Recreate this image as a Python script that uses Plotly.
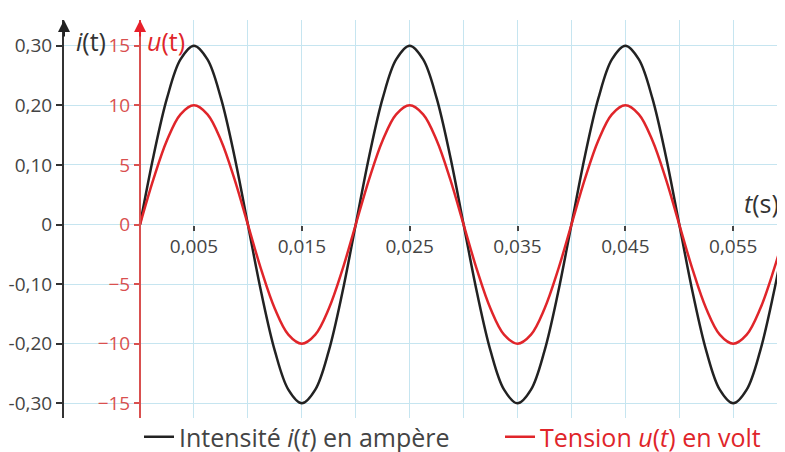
import plotly.graph_objects as go

# ---- data ----
t_s = [0.0, 0.00125, 0.0025, 0.00375, 0.005, 0.00625, 0.0075, 0.00875,
       0.01, 0.01125, 0.0125, 0.01375, 0.015, 0.01625, 0.0175, 0.01875,
       0.02, 0.02125, 0.0225, 0.02375, 0.025, 0.02625, 0.0275, 0.02875,
       0.03, 0.03125, 0.0325, 0.03375, 0.035, 0.03625, 0.0375, 0.03875,
       0.04, 0.04125, 0.0425, 0.04375, 0.045, 0.04625, 0.0475, 0.04875,
       0.05, 0.05125, 0.0525, 0.05375, 0.055, 0.05625, 0.0575, 0.05875, 0.06]
i_A = [0.0, 0.115, 0.212, 0.277, 0.30, 0.277, 0.212, 0.115,
       0.0, -0.115, -0.212, -0.277, -0.30, -0.277, -0.212, -0.115,
       0.0, 0.115, 0.212, 0.277, 0.30, 0.277, 0.212, 0.115,
       0.0, -0.115, -0.212, -0.277, -0.30, -0.277, -0.212, -0.115,
       0.0, 0.115, 0.212, 0.277, 0.30, 0.277, 0.212, 0.115,
       0.0, -0.115, -0.212, -0.277, -0.30, -0.277, -0.212, -0.115, 0.0]
u_V = [0.0, 3.83, 7.07, 9.24, 10.0, 9.24, 7.07, 3.83,
       0.0, -3.83, -7.07, -9.24, -10.0, -9.24, -7.07, -3.83,
       0.0, 3.83, 7.07, 9.24, 10.0, 9.24, 7.07, 3.83,
       0.0, -3.83, -7.07, -9.24, -10.0, -9.24, -7.07, -3.83,
       0.0, 3.83, 7.07, 9.24, 10.0, 9.24, 7.07, 3.83,
       0.0, -3.83, -7.07, -9.24, -10.0, -9.24, -7.07, -3.83, 0.0]

x_ticks = [0.005, 0.015, 0.025, 0.035, 0.045, 0.055]
x_ticktext = ["0,005", "0,015", "0,025", "0,035", "0,045", "0,055"]
x_minor = [0.0, 0.01, 0.02, 0.03, 0.04, 0.05]
i_ticks = [-0.30, -0.20, -0.10, 0.0, 0.10, 0.20, 0.30]
i_ticktext = ["-0,30", "-0,20", "-0,10", "0", "0,10", "0,20", "0,30"]
u_ticks = [-15, -10, -5, 0, 5, 10, 15]
u_ticktext = ["−15", "−10", "−5", "0", "5", "10", "15"]

# ---- layout constants (page body has an 8 px default margin) ----
OFF = 8
W, H = 785 - OFF, 452 - OFF
ML, MR, MT, MB = 64 - OFF, 0, 20 - OFF, 34
PW, PH = W - ML - MR, H - MT - MB
X_RANGE = [-0.00705, 0.0598]
U_RANGE = [-16.23, 17.16]
A_PER_V = 0.02
I_RANGE = [U_RANGE[0] * A_PER_V, U_RANGE[1] * A_PER_V]

BLACK = "#222222"
RED = "#e0252a"
RED_AX = "#d9504f"
GRID = "#c6e5f0"
FONT = "Open Sans"
TICK_SIZE = 19


def px_x(x_ref):
    """reference-picture x pixel -> paper fraction"""
    return (x_ref - OFF - ML) / PW


red_pos = (0 - X_RANGE[0]) / (X_RANGE[1] - X_RANGE[0])
zero_pos = (0 - U_RANGE[0]) / (U_RANGE[1] - U_RANGE[0])
leg_y = -(437 - 418) / PH

fig = go.Figure()
fig.add_trace(go.Scatter(
    x=t_s, y=i_A, mode="lines", line=dict(color=BLACK, width=2.5, shape="spline"),
    name="Intensité <i>i</i>(<i>t</i>) en ampère", yaxis="y", legend="legend"))
fig.add_trace(go.Scatter(
    x=t_s, y=u_V, mode="lines", line=dict(color=RED, width=2.5, shape="spline"),
    name="<span style='color:%s'>Tension <i>u</i>(<i>t</i>) en volt</span>" % RED,
    yaxis="y2", legend="legend2"))

leg_common = dict(orientation="h", xanchor="left", yanchor="middle", y=leg_y,
                  font=dict(family=FONT, size=25, color="#444444"),
                  bgcolor="rgba(0,0,0,0)", itemwidth=30)

fig.update_layout(
    width=W, height=H,
    margin=dict(l=ML, r=MR, t=MT, b=MB, autoexpand=False),
    paper_bgcolor="white", plot_bgcolor="white",
    font=dict(family=FONT, size=TICK_SIZE, color="#444444"),
    showlegend=True,
    legend=dict(x=px_x(139), **leg_common),
    legend2=dict(x=px_x(500), **leg_common),
    xaxis=dict(
        range=X_RANGE, anchor="free", position=zero_pos, automargin=False,
        tickmode="array", tickvals=x_ticks, ticktext=x_ticktext,
        ticks="outside", ticklen=5, tickwidth=1.5, tickcolor="#444444",
        showgrid=True, gridcolor=GRID, gridwidth=1.2,
        minor=dict(tickvals=x_minor, showgrid=True, gridcolor=GRID, gridwidth=1.2, ticks=""),
        showline=False, zeroline=False,
        tickfont=dict(size=TICK_SIZE, color="#444444"),
    ),
    yaxis=dict(
        range=I_RANGE, automargin=False, tickmode="array", tickvals=i_ticks, ticktext=i_ticktext,
        ticks="outside", ticklen=6, tickwidth=1.5, tickcolor="#333333",
        showline=True, linecolor="#333333", linewidth=2,
        showgrid=True, gridcolor=GRID, gridwidth=1.2, zeroline=False,
        tickfont=dict(size=TICK_SIZE, color="#444444"),
    ),
    yaxis2=dict(
        range=U_RANGE, overlaying="y", anchor="free", position=red_pos, side="left",
        automargin=False, tickmode="array", tickvals=u_ticks, ticktext=u_ticktext,
        ticks="outside", ticklen=5, tickwidth=1.5, tickcolor=RED_AX,
        showline=True, linecolor=RED_AX, linewidth=2,
        showgrid=False, zeroline=False,
        tickfont=dict(size=TICK_SIZE, color=RED_AX),
    ),
)

# t axis with arrow (from t = 0 to the right edge)
fig.add_annotation(x=1.0, y=0, xref="paper", yref="y2", ax=0, ay=0,
                   axref="x", ayref="y2", showarrow=True, arrowhead=2,
                   arrowsize=1.2, arrowwidth=2, arrowcolor="#444444", text="")
# arrows on the vertical axes
fig.add_annotation(x=0, y=1.0, xref="paper", yref="paper", ax=0, ay=18,
                   showarrow=True, arrowhead=2, arrowsize=1.2, arrowwidth=2,
                   arrowcolor="#222222", text="")
fig.add_annotation(x=red_pos, y=1.0, xref="paper", yref="paper", ax=0, ay=18,
                   showarrow=True, arrowhead=2, arrowsize=1.2, arrowwidth=2,
                   arrowcolor="#e8202a", text="")

# axis titles
fig.add_annotation(x=px_x(74), y=1.0, xref="paper", yref="paper", xanchor="left",
                   yanchor="top", yshift=-2, showarrow=False,
                   text="<i>i</i>(t)", font=dict(family=FONT, size=25, color="#333333"))
fig.add_annotation(x=red_pos, y=1.0, xref="paper", yref="paper", xanchor="left",
                   yanchor="top", xshift=5, yshift=-2, showarrow=False,
                   text="<i>u</i>(t)", font=dict(family=FONT, size=25, color=RED))
fig.add_annotation(x=1.0, y=0, xref="paper", yref="y2", xanchor="right",
                   yanchor="bottom", xshift=-4, yshift=3, showarrow=False,
                   text="<i>t</i>(s)", font=dict(family=FONT, size=25, color="#333333"))

fig.write_html("out.html")
